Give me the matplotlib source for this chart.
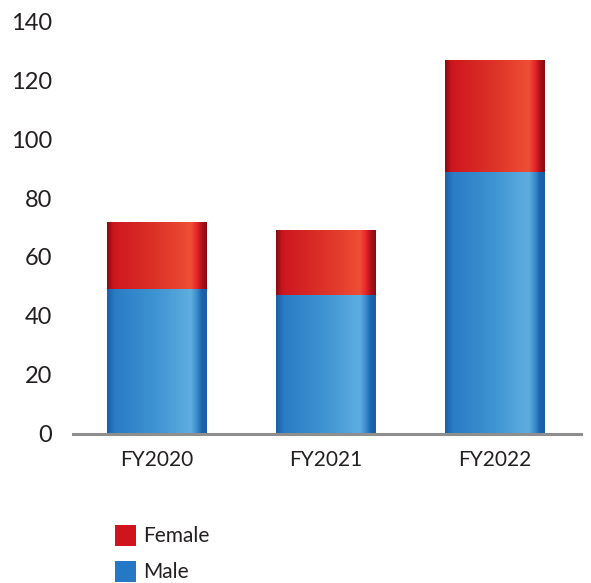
import numpy as np
import matplotlib
matplotlib.use("Agg")
import matplotlib.pyplot as plt
from matplotlib.colors import LinearSegmentedColormap
from matplotlib.patches import Patch

# Headcount by gender per fiscal year
categories = ["FY2020", "FY2021", "FY2022"]
male = [49, 47, 89]
female = [23, 22, 38]
y_ticks = [0, 20, 40, 60, 80, 100, 120, 140]

plt.rcParams["font.family"] = ["Lato", "DejaVu Sans"]
TEXT = "#231f20"

# Cylinder-like horizontal shading for each segment
red_cmap = LinearSegmentedColormap.from_list("red_tube", [
    (0.00, "#8a0a10"), (0.06, "#c8161d"), (0.12, "#d01a20"),
    (0.50, "#dd3328"), (0.84, "#ef4e36"), (0.90, "#e8262a"),
    (0.95, "#b0121a"), (1.00, "#8a0a10")])
blue_cmap = LinearSegmentedColormap.from_list("blue_tube", [
    (0.00, "#1a5ea8"), (0.08, "#2a7cc4"), (0.50, "#3f95d2"),
    (0.84, "#5eaee0"), (0.90, "#3d8ccc"), (0.95, "#1b65b0"),
    (1.00, "#1a5ea8")])

fig = plt.figure(figsize=(5.91, 5.83), dpi=100)
ax = fig.add_axes([73 / 591, (583 - 433.5) / 583, (581 - 73) / 591, (433.5 - 21.5) / 583])

x = np.arange(len(categories))
width = 0.585
grad = np.linspace(0, 1, 256).reshape(1, -1)


def shaded_bars(bottoms, heights, cmap):
    bars = ax.bar(x, heights, width, bottom=bottoms, color="none", linewidth=0, zorder=2)
    for bar in bars:
        x0, y0 = bar.get_x(), bar.get_y()
        img = ax.imshow(grad, cmap=cmap, aspect="auto", zorder=2,
                        extent=(x0, x0 + bar.get_width(), y0, y0 + bar.get_height()),
                        interpolation="bilinear")
        img.set_clip_path(bar)
    return bars


shaded_bars(np.zeros(len(male)), male, blue_cmap)
shaded_bars(np.array(male), female, red_cmap)

ax.set_xlim(-0.493, 2.508)
ax.set_ylim(0, 140)
ax.set_yticks(y_ticks)
ax.set_yticklabels([str(v) for v in y_ticks], fontsize=17, color=TEXT)
ax.set_xticks(x)
ax.set_xticklabels(categories, fontsize=15, color=TEXT)
ax.tick_params(axis="both", length=0)
ax.tick_params(axis="y", pad=15)
ax.tick_params(axis="x", pad=12)

for side in ("top", "right", "left"):
    ax.spines[side].set_visible(False)
ax.spines["bottom"].set_color("#8e8e8e")
ax.spines["bottom"].set_linewidth(2.2)
ax.spines["bottom"].set_zorder(3)

handles = [Patch(facecolor="#d0141e", edgecolor="none", label="Female"),
           Patch(facecolor="#2478c4", edgecolor="none", label="Male")]
fig.legend(handles=handles, loc="upper left", bbox_to_anchor=(115 / 591, (583 - 525) / 583),
           frameon=False, fontsize=15, handlelength=1.0, handleheight=1.15,
           handletextpad=0.35, labelspacing=0.7, borderpad=0, borderaxespad=0,
           labelcolor=TEXT)

fig.savefig("out.png", dpi=100)
